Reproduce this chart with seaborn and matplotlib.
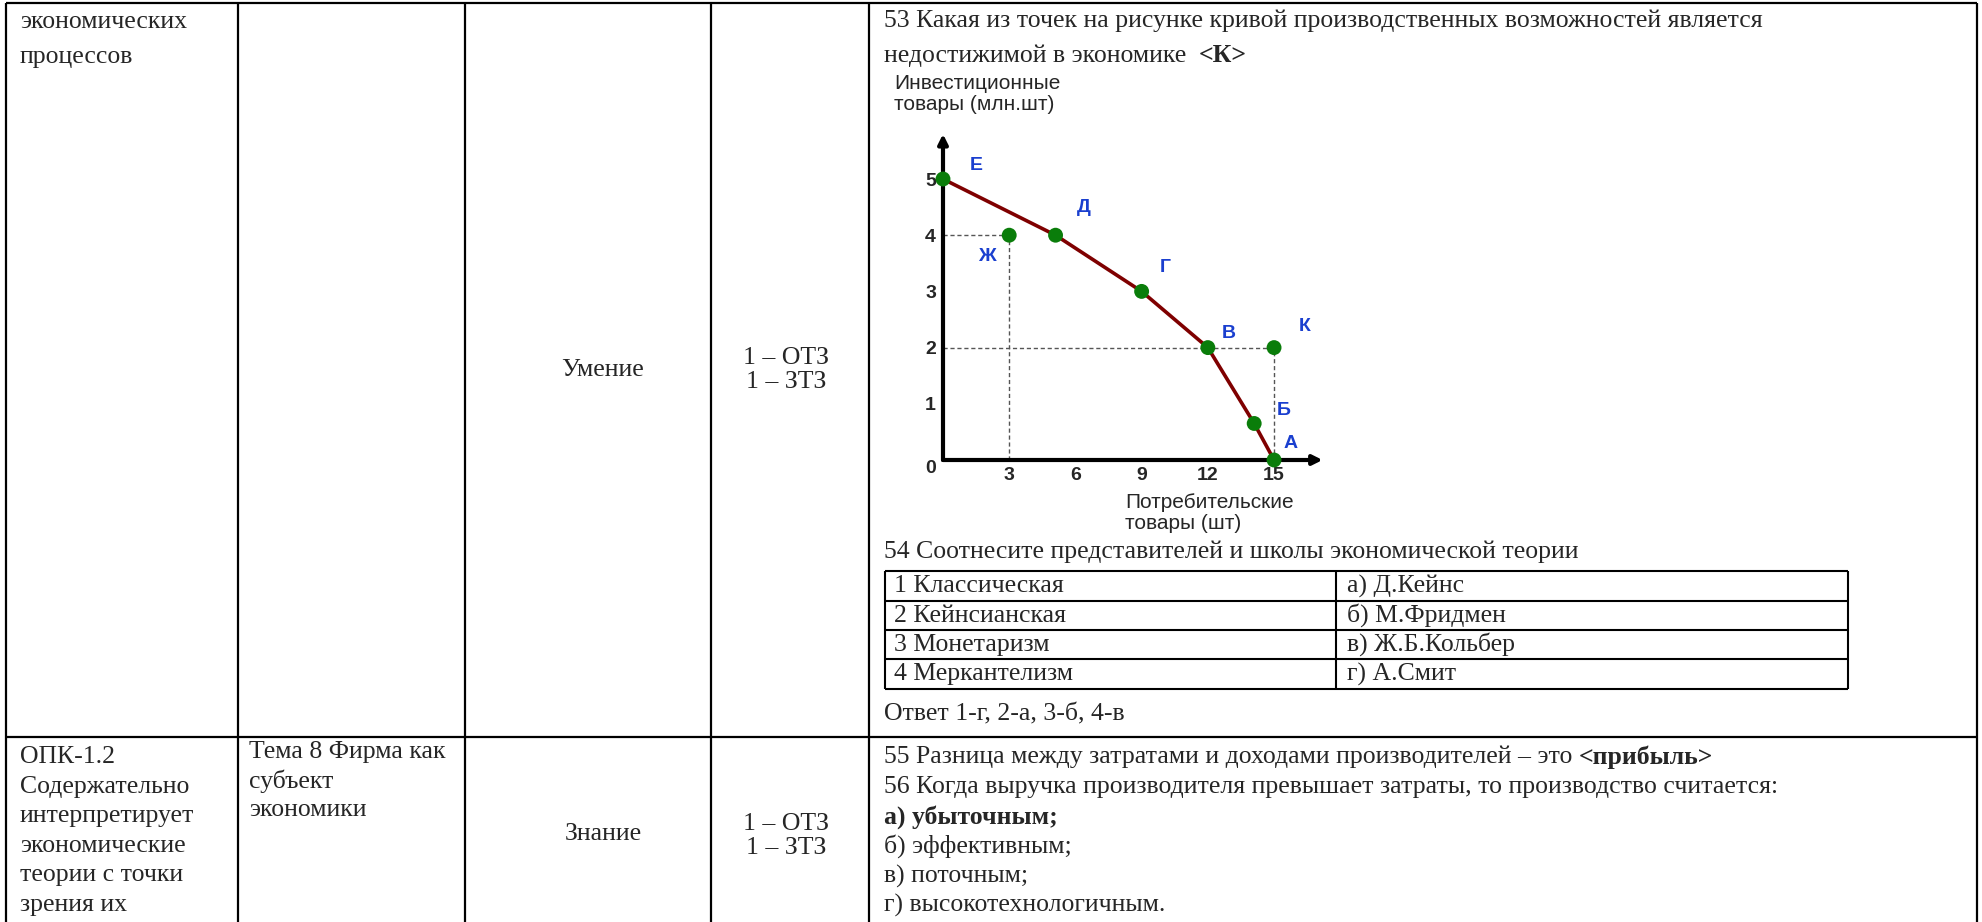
import matplotlib
matplotlib.use("Agg")
import matplotlib.pyplot as plt
import seaborn as sns
import numpy as np
import pandas as pd

sns.set_style("white")
plt.rcParams['font.family'] = ['Liberation Serif', 'DejaVu Serif']

# production possibilities curve (points on the curve)
ppf_labels = ["Е", "Д", "Г", "В", "Б", "А"]
ppf_x = [0, 5.1, 9, 12, 14.1, 15]
ppf_y = [5, 4, 3, 2, 0.65, 0]
# points off the curve
off_labels = ["Ж", "К"]
off_x = [3, 15]
off_y = [4, 2]
x_ticks = [3, 6, 9, 12, 15]
y_ticks = [1, 2, 3, 4, 5]
y_title = "Инвестиционные\nтовары (млн.шт)"
x_title = "Потребительские\nтовары (шт)"

# document text
row1_col1 = ["экономических", "процессов"]
row2_col1 = ["ОПК-1.2", "Содержательно", "интерпретирует", "экономические",
             "теории с точки", "зрения их"]
row2_col2 = ["Тема 8 Фирма как", "субъект", "экономики"]
levels = ["Умение", "Знание"]
counts = ["1 – ОТЗ\n1 – ЗТЗ", "1 – ОТЗ\n1 – ЗТЗ"]
q53 = ["53 Какая из точек на рисунке кривой производственных возможностей является",
       "недостижимой в экономике  "]
q53_answer = "<К>"
q54 = "54 Соотнесите представителей и школы экономической теории"
schools = ["1 Классическая", "2 Кейнсианская", "3 Монетаризм", "4 Меркантелизм"]
people = ["а) Д.Кейнс", "б) М.Фридмен", "в) Ж.Б.Кольбер", "г) А.Смит"]
q54_answer = "Ответ 1-г, 2-а, 3-б, 4-в"
q55 = "55 Разница между затратами и доходами производителей – это "
q55_answer = "<прибыль>"
q56 = "56 Когда выручка производителя превышает затраты, то производство считается:"
q56_options = ["а) убыточным;", "б) эффективным;", "в) поточным;", "г) высокотехнологичным."]
q56_right = 0

W, H = 1982, 922
TS = 18.5
fig = plt.figure(figsize=(W / 100, H / 100), dpi=100)
doc = fig.add_axes([0, 0, 1, 1])
doc.set_xlim(0, W)
doc.set_ylim(H, 0)
doc.axis("off")
r = fig.canvas.get_renderer()

# table grid
cols = [6, 238, 465, 711, 869, 1977]
doc.vlines(cols, 3, H, color="black", lw=1.6)
doc.hlines([3, 737], cols[0], cols[-1], color="black", lw=1.6)


def runs(x, y, parts):
    for s, w in parts:
        t = doc.text(x, y, s, fontsize=TS, fontweight=w, va="center", ha="left")
        x += t.get_window_extent(renderer=r).width


for i, s in enumerate(row1_col1):
    doc.text(20, 22 + 35 * i, s, fontsize=TS, va="center")
for i, s in enumerate(row2_col1):
    doc.text(20, 757 + 29.5 * i, s, fontsize=TS, va="center")
for i, s in enumerate(row2_col2):
    doc.text(249, 752 + 29 * i, s, fontsize=TS, va="center")

for lv, ct, yl, yc in zip(levels, counts, [370, 834], [370, 836]):
    doc.text(603, yl, lv, fontsize=TS, ha="center", va="center")
    doc.text(786, yc, ct, fontsize=TS, ha="center", va="center", linespacing=1.12)

qx = 884
runs(qx, 21, [(q53[0], "normal")])
runs(qx, 56, [(q53[1], "normal"), (q53_answer, "bold")])
runs(qx, 552, [(q54, "normal")])

# matching table
t_left, t_mid, t_right = 885, 1336, 1848
t_rows = [571, 601, 630, 659, 689]
doc.hlines(t_rows, t_left, t_right, color="black", lw=1.5)
doc.vlines([t_left, t_mid, t_right], t_rows[0], t_rows[-1], color="black", lw=1.5)
for i, (a, b) in enumerate(zip(schools, people)):
    yc = (t_rows[i] + t_rows[i + 1]) / 2
    doc.text(894, yc, a, fontsize=TS, va="center")
    doc.text(1347, yc, b, fontsize=TS, va="center")
runs(qx, 714, [(q54_answer, "normal")])

runs(qx, 757, [(q55, "normal"), (q55_answer, "bold")])
runs(qx, 787, [(q56, "normal")])
for i, s in enumerate(q56_options):
    runs(qx, 817 + 29.5 * i, [(s, "bold" if i == q56_right else "normal")])

# chart: pixel mapping x -> 943 + 22.07*x, y -> 460 - 56.2*y
x0, sx, y0, sy = 943, 22.07, 460, 56.2
xmax, ymax = 17.2, 5.8
ax = fig.add_axes([x0 / W, (H - y0) / H, xmax * sx / W, ymax * sy / H])
ax.set_xlim(0, xmax)
ax.set_ylim(0, ymax)
ax.patch.set_alpha(0)
for sp in ax.spines.values():
    sp.set_visible(False)

sans = ["Liberation Sans", "DejaVu Sans"]
for xy in [(xmax, 0), (0, ymax)]:
    ax.annotate("", xy=xy, xytext=(0, 0), annotation_clip=False,
                arrowprops=dict(arrowstyle="-|>", lw=3, color="black",
                                mutation_scale=14, shrinkA=0, shrinkB=0))

# dashed guides to the off-curve points
for px_, py_ in zip(off_x, off_y):
    ax.plot([0, px_], [py_, py_], ls=(0, (3, 2)), color="#555555", lw=1, clip_on=False)
    ax.plot([px_, px_], [0, py_], ls=(0, (3, 2)), color="#555555", lw=1, clip_on=False)

curve = pd.DataFrame({"x": ppf_x, "y": ppf_y, "name": ppf_labels})
others = pd.DataFrame({"x": off_x, "y": off_y, "name": off_labels})
sns.lineplot(data=curve, x="x", y="y", sort=False, color="#7f0000", lw=2.6,
             ax=ax, clip_on=False)
pts = pd.concat([curve, others], ignore_index=True)
sns.scatterplot(data=pts, x="x", y="y", color="#0a7d0a", s=115, edgecolor="none",
                ax=ax, clip_on=False, zorder=5)

label_off = {"Е": (24, 10), "Д": (20, 20), "Г": (17, 17), "В": (15, 10),
             "Б": (21, 9), "А": (12, 12), "Ж": (-16, -15), "К": (22, 15)}
for _, row in pts.iterrows():
    ax.annotate(row["name"], (row["x"], row["y"]), xytext=label_off[row["name"]],
                textcoords="offset points", ha="center", va="center",
                fontsize=14, fontweight="bold", color="#1a3fcf", family=sans,
                annotation_clip=False)

ax.set_xticks(x_ticks)
ax.set_yticks(y_ticks)
ax.set_xticklabels([str(v) for v in x_ticks], fontsize=14, fontweight="bold", family=sans)
ax.set_yticklabels([str(v) for v in y_ticks], fontsize=14, fontweight="bold", family=sans)
ax.tick_params(length=0, pad=5)
ax.set_xlabel("")
ax.set_ylabel("")
ax.annotate("0", (0, 0), xytext=(-9, -6), textcoords="offset points", ha="center",
            va="center", fontsize=14, fontweight="bold", family=sans, annotation_clip=False)

doc.text(894, 94, y_title, fontsize=15, family=sans, va="center", linespacing=1.1)
doc.text(1125, 513, x_title, fontsize=15, family=sans, va="center", linespacing=1.1)

fig.savefig("out.png", dpi=100, facecolor="white")
